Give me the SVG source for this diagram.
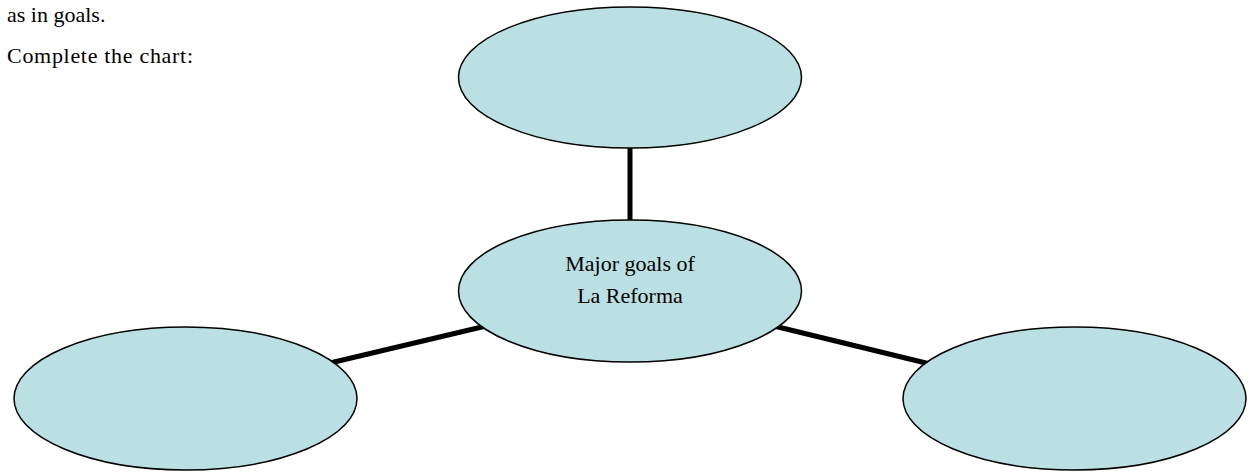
<svg xmlns="http://www.w3.org/2000/svg" width="1251" height="476" viewBox="0 0 1251 476">
<style>
.node{fill:#bbe0e3;stroke:#000;stroke-width:1.5}
.conn{stroke:#000;stroke-width:5;fill:none}
.t{font-family:"Liberation Serif","DejaVu Serif",serif;font-size:22px;fill:#000}
</style>
<rect width="1251" height="476" fill="#fff"/>
<text class="t" x="7" y="22">as in goals.</text>
<text class="t" x="7" y="63" textLength="186" lengthAdjust="spacing">Complete the chart:</text>
<g id="connectors">
<line class="conn" x1="630" y1="147" x2="630" y2="222"/>
<line class="conn" x1="330" y1="363" x2="486" y2="326"/>
<line class="conn" x1="774" y1="326" x2="930" y2="364"/>
</g>
<g id="node-top"><ellipse class="node" cx="630" cy="77.5" rx="171.5" ry="70.5"/></g>
<g id="node-center"><ellipse class="node" cx="630" cy="291" rx="171.5" ry="71"/>
<text class="t" x="630" y="271" text-anchor="middle">Major goals of</text>
<text class="t" x="630" y="303" text-anchor="middle">La Reforma</text></g>
<g id="node-left"><ellipse class="node" cx="185.5" cy="398.5" rx="171.5" ry="71.5"/></g>
<g id="node-right"><ellipse class="node" cx="1074.5" cy="398.5" rx="171.5" ry="71.5"/></g>
</svg>
